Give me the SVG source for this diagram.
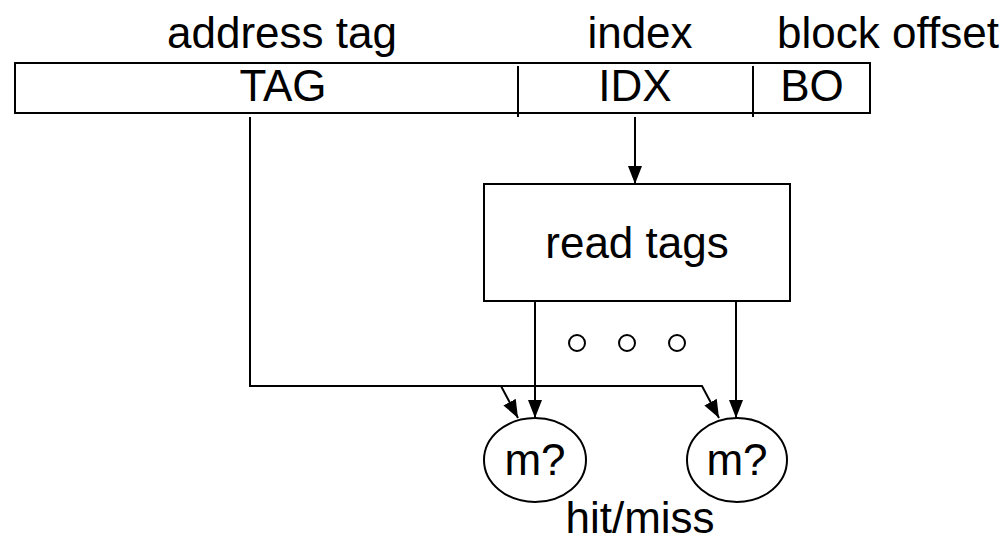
<svg xmlns="http://www.w3.org/2000/svg" width="1007" height="541" viewBox="0 0 1007 541">
<style>
text{font-family:"Liberation Sans",Arial,sans-serif;font-size:44px;fill:#000;text-anchor:middle}
.s{fill:#fff;stroke:#000;stroke-width:2}
.c{fill:none;stroke:#000;stroke-width:2}
</style>
<defs>
<marker id="ah" viewBox="0 0 18 14" refX="18" refY="7" markerWidth="18" markerHeight="14" markerUnits="userSpaceOnUse" orient="auto">
<path d="M0,0 L18,7 L0,14 Z" fill="#000"/>
</marker>
</defs>
<rect width="1007" height="541" fill="#fff"/>
<g id="labels">
<text x="282" y="48">address tag</text>
<text x="640" y="48">index</text>
<text x="888" y="48">block offset</text>
</g>
<g id="address">
<rect class="s" x="15" y="63" width="855" height="50"/>
<line class="c" x1="518" y1="66" x2="518" y2="117"/>
<line class="c" x1="753" y1="66" x2="753" y2="117"/>
<text x="283" y="101">TAG</text>
<text x="635" y="101">IDX</text>
<text x="812" y="101">BO</text>
</g>
<g id="readtags">
<rect class="s" x="484" y="184" width="306" height="117"/>
<text x="637" y="258">read tags</text>
</g>
<g id="dots">
<circle class="c" cx="577" cy="343" r="8"/>
<circle class="c" cx="627" cy="343" r="8"/>
<circle class="c" cx="677" cy="343" r="8"/>
</g>
<g id="m1">
<ellipse class="s" cx="535" cy="460" rx="51" ry="42"/>
<text x="535" y="475">m?</text>
</g>
<g id="m2">
<ellipse class="s" cx="737" cy="460" rx="50" ry="42"/>
<text x="737" y="475">m?</text>
</g>
<g id="hitmiss">
<text x="640" y="533">hit/miss</text>
</g>
<g id="connectors">
<line class="c" x1="635" y1="117" x2="635" y2="184" marker-end="url(#ah)"/>
<line class="c" x1="535" y1="301" x2="535" y2="418" marker-end="url(#ah)"/>
<line class="c" x1="736" y1="301" x2="736" y2="418" marker-end="url(#ah)"/>
<polyline class="c" points="250,117 250,386 501,386 518,418" marker-end="url(#ah)"/>
<polyline class="c" points="501,386 702,386 719,418" marker-end="url(#ah)"/>
</g>
</svg>
